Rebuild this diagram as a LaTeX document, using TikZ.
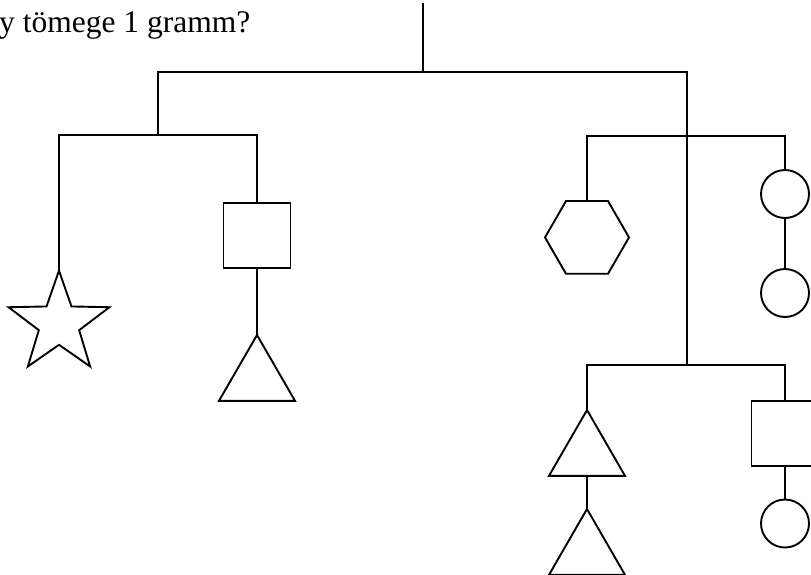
\documentclass[tikz,border=0pt]{standalone}
\usepackage{fontspec}
\setmainfont{Liberation Serif}
\usetikzlibrary{shapes.geometric}
\tikzset{
  wire/.style={line width=1.9pt, line cap=rect},
  shp/.style={draw, line width=1.9pt, inner sep=0pt, outer sep=0pt},
  tri/.style={shp, regular polygon, regular polygon sides=3, minimum size=87.8pt},
  hexa/.style={shp, regular polygon, regular polygon sides=6, minimum size=84pt},
  ball/.style={shp, circle, minimum size=48pt},
  box/.style={shp, rectangle, minimum width=67pt, minimum height=65pt},
  starshape/.style={shp, star, star points=5, star point ratio=2.5, minimum size=106pt},
}
\begin{document}
\begin{tikzpicture}[x=1pt, y=-1pt]
\useasboundingbox (0,0) rectangle (811,574);
\clip (0,0) rectangle (811,574);
% text
\node[anchor=base west, inner sep=0pt, font=\fontsize{31.5}{36}\selectfont] (q) at (-1,32) {y tömege 1 gramm?};
% coordinates of the bars
\coordinate (hook) at (423,4);
\coordinate (t) at (423,72);
\coordinate (tl) at (158,72);
\coordinate (tr) at (687,72);
\coordinate (l) at (158,135);
\coordinate (ll) at (59,135);
\coordinate (lr) at (257,135);
\coordinate (r1) at (687,136);
\coordinate (r1l) at (587,136);
\coordinate (r1r) at (785,136);
\coordinate (r2) at (687,365);
\coordinate (r2l) at (587,365);
\coordinate (r2r) at (785,365);
% shapes
\node[starshape] (st) at (59,323.6) {};
\node[box] (sq) at (257,235.5) {};
\node[tri] (ta) at (257,378.9) {};
\node[hexa] (hx) at (587,237.4) {};
\node[ball] (c1) at (785,194) {};
\node[ball] (c2) at (785,293) {};
\node[tri] (tb) at (587,453.9) {};
\node[tri] (tc) at (587,552.9) {};
\node[box] (rb) at (785,433.5) {};
\node[ball] (c3) at (785,523.5) {};
% connectors
\draw[wire] (hook) -- (t);
\draw[wire] (tl) -- (tr);
\draw[wire] (tl) -- (l);
\draw[wire] (ll) -- (lr);
\draw[wire] (ll) -- (st.outer point 1);
\draw[wire] (lr) -- (sq.north);
\draw[wire] (sq.south) -- (ta.corner 1);
\draw[wire] (tr) -- (r1) -- (r2);
\draw[wire] (r1l) -- (r1r);
\draw[wire] (r1l) -- (hx.north);
\draw[wire] (r1r) -- (c1.north);
\draw[wire] (c1.south) -- (c2.north);
\draw[wire] (r2l) -- (r2r);
\draw[wire] (r2l) -- (tb.corner 1);
\draw[wire] (tb.south) -- (tc.corner 1);
\draw[wire] (r2r) -- (rb.north);
\draw[wire] (rb.south) -- (c3.north);
\end{tikzpicture}
\end{document}
